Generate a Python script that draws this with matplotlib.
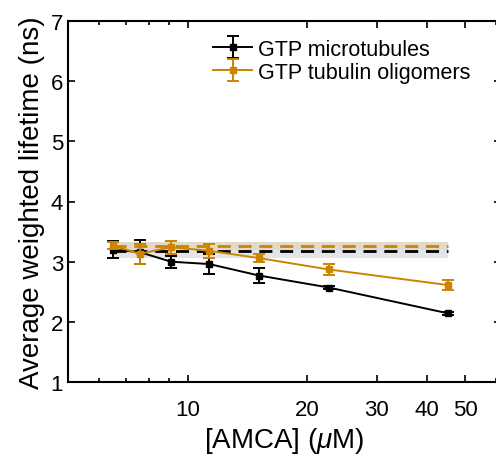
"""AMCA concentration series: average weighted lifetime for GTP microtubules vs oligomers."""
import matplotlib
matplotlib.use("Agg")
import matplotlib.pyplot as plt
from matplotlib.ticker import FixedLocator, NullFormatter

plt.rcParams["font.family"] = ["Liberation Sans", "DejaVu Sans"]
plt.rcParams["mathtext.fontset"] = "custom"
plt.rcParams["mathtext.it"] = "Liberation Sans:italic"

# concentrations (uM)
amca = [6.49, 7.57, 9.08, 11.35, 15.13, 22.7, 45.4]

mt_tau = [3.20, 3.16, 3.00, 2.96, 2.77, 2.57, 2.14]
mt_err = [0.14, 0.20, 0.10, 0.16, 0.12, 0.02, 0.03]
olig_tau = [3.27, 3.13, 3.24, 3.18, 3.06, 2.87, 2.61]
olig_err = [0.06, 0.17, 0.11, 0.12, 0.07, 0.09, 0.08]

# reference lifetimes (mean, low, high)
mt_ref = [3.18, 3.06, 3.32]
olig_ref = [3.26, 3.19, 3.33]

black = "black"
orange = "#CC8400"

fig = plt.figure(figsize=(4.96, 4.60), dpi=100)
ax = fig.add_axes([68 / 496, 1 - 383 / 460, 433 / 496, (383 - 22) / 460])

x0, x1 = amca[0], amca[-1]
ax.fill_between([x0, x1], mt_ref[1], mt_ref[2], color="#bfbfbf", alpha=0.4, lw=0, zorder=1)
ax.fill_between([x0, x1], olig_ref[1], olig_ref[2], color=orange, alpha=0.12, lw=0, zorder=1)
ax.plot([x0, x1], [mt_ref[0]] * 2, color=black, lw=2, dashes=(4.7, 2.8), zorder=2)
ax.plot([x0, x1], [olig_ref[0]] * 2, color=orange, lw=2, dashes=(4.7, 2.8), zorder=2)

ax.errorbar(amca, mt_tau, yerr=mt_err, color=black, marker="s", ms=4.5, lw=1.4,
            elinewidth=1.4, capsize=4, capthick=1.4, label="GTP microtubules", zorder=3)
ax.errorbar(amca, olig_tau, yerr=olig_err, color=orange, marker="s", ms=4.5, lw=1.4,
            elinewidth=1.4, capsize=4, capthick=1.4, label="GTP tubulin oligomers", zorder=4)

ax.set_xscale("log")
ax.set_xlim(5, 61.6)
ax.set_ylim(1, 7)
ax.xaxis.set_major_locator(FixedLocator([10, 20, 30, 40, 50]))
ax.xaxis.set_minor_locator(FixedLocator([6, 7, 8, 9, 60]))
ax.xaxis.set_minor_formatter(NullFormatter())
ax.set_xticklabels(["10", "20", "30", "40", "50"])
ax.set_yticks(range(1, 8))
ax.tick_params(which="both", direction="in", top=True, right=True, labelsize=16, width=1.2)
ax.tick_params(which="major", length=5)
ax.tick_params(which="minor", length=3)
ax.tick_params(axis="x", which="both", pad=12.5)
for s in ax.spines.values():
    s.set_linewidth(1.5)

ax.set_xlabel(r"[AMCA] ($\mathit{\mu}$M)", fontsize=20, labelpad=3)
ax.set_ylabel("Average weighted lifetime (ns)", fontsize=20, labelpad=4)

ax.legend(loc="upper left", bbox_to_anchor=(0.316, 0.975), frameon=False, fontsize=15.5,
          handlelength=1.8, handletextpad=0.25, labelspacing=0.1, borderaxespad=0)

fig.savefig("out.png", dpi=100)
